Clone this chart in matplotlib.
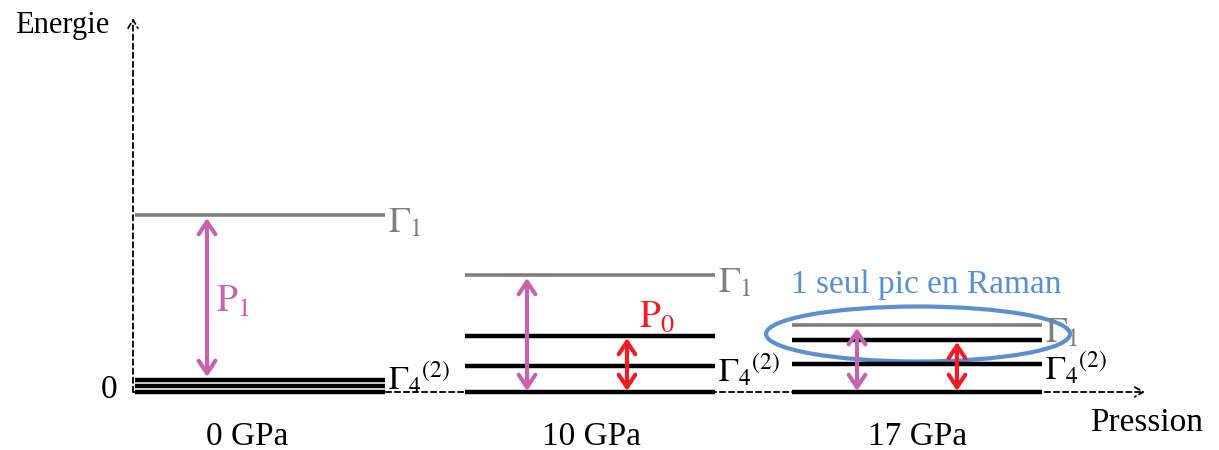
import matplotlib.pyplot as plt
from matplotlib.patches import Ellipse

plt.rcParams['font.family'] = ['Liberation Serif', 'DejaVu Serif']

# données (énergie en unités arbitraires, 0 = fondamental)
pressions = ['0 GPa', '10 GPa', '17 GPa']
x_debut = [135, 465, 792]
x_label = [247, 591, 918]
largeur = 250
gamma1 = [177, 117, 67]
niveaux_noirs = [[0, 6, 12], [0, 26, 56], [0, 28, 52]]
pos_p1 = [72, 62, 65]     # position de la flèche P1 dans chaque groupe
pos_p0 = [None, 162, 165]
gamma4_label = [14, 22, 24]

rose = '#c464ad'
rouge = '#ee1c25'
gris = '#7f7f7f'
bleu = '#5b8fcf'

fig = plt.figure(figsize=(12.19, 4.5), dpi=100)
ax = fig.add_axes([0, 0, 1, 1])
ax.set_xlim(0, 1219)
ax.set_ylim(-58, 392)
ax.axis('off')

# axes en pointillés
ax.annotate('', xy=(133, 374), xytext=(133, 0),
            arrowprops=dict(arrowstyle='->,head_length=0.6,head_width=0.35', ls=(0, (3, 2)), lw=1.3,
                            color='black', shrinkA=0, shrinkB=0))
ax.annotate('', xy=(1145, 0), xytext=(133, 0),
            arrowprops=dict(arrowstyle='->,head_length=0.6,head_width=0.35', ls=(0, (3, 2)), lw=1.3,
                            color='black', shrinkA=0, shrinkB=0))

ax.text(15, 359, 'Energie', fontsize=22, va='baseline', ha='left')
ax.text(109, 2, '0', fontsize=24, va='center', ha='center')
ax.text(1147, -31, 'Pression', fontsize=24, va='center', ha='center')

for i, p in enumerate(pressions):
    x0 = x_debut[i]
    x1 = x0 + largeur
    for e in niveaux_noirs[i]:
        ax.plot([x0, x1], [e, e], color='black', lw=3.2, solid_capstyle='butt')
    ax.plot([x0, x1], [gamma1[i], gamma1[i]], color=gris, lw=2.6, solid_capstyle='butt')
    ax.text(x1 + 3, gamma1[i] - 9, r'$\Gamma_1$', color=gris, fontsize=26, va='center', ha='left',
            math_fontfamily='stix')
    ax.text(x1 + 3, gamma4_label[i], r'$\Gamma_4{}^{(2)}$', color='black', fontsize=24, va='center', ha='left',
            math_fontfamily='stix')
    ax.text(x_label[i], -45, p, fontsize=24, va='center', ha='center')

    # flèche P1 (rose)
    xa = x0 + pos_p1[i]
    bas = 15 if i == 0 else 1
    ax.annotate('', xy=(xa, gamma1[i] - 3), xytext=(xa, bas),
                arrowprops=dict(arrowstyle='<->,head_length=0.9,head_width=0.6', lw=3, color=rose,
                                shrinkA=0, shrinkB=0))
    # flèche P0 (rouge)
    if pos_p0[i] is not None:
        xb = x0 + pos_p0[i]
        ax.annotate('', xy=(xb, niveaux_noirs[i][-1] - 2), xytext=(xb, 1),
                    arrowprops=dict(arrowstyle='<->,head_length=0.9,head_width=0.6', lw=3, color=rouge,
                                    shrinkA=0, shrinkB=0))

ax.text(216, 90, r'$\mathrm{P}_1$', color=rose, fontsize=27, va='center', ha='left', math_fontfamily='stix')
ax.text(639, 74, r'$\mathrm{P}_0$', color=rouge, fontsize=27, va='center', ha='left', math_fontfamily='stix')

ax.text(926, 107, '1 seul pic en Raman', color=bleu, fontsize=24, va='center', ha='center')
ax.add_patch(Ellipse((918, 58), 304, 55, fill=False, edgecolor=bleu, lw=3))

fig.savefig('out.png', dpi=100)
